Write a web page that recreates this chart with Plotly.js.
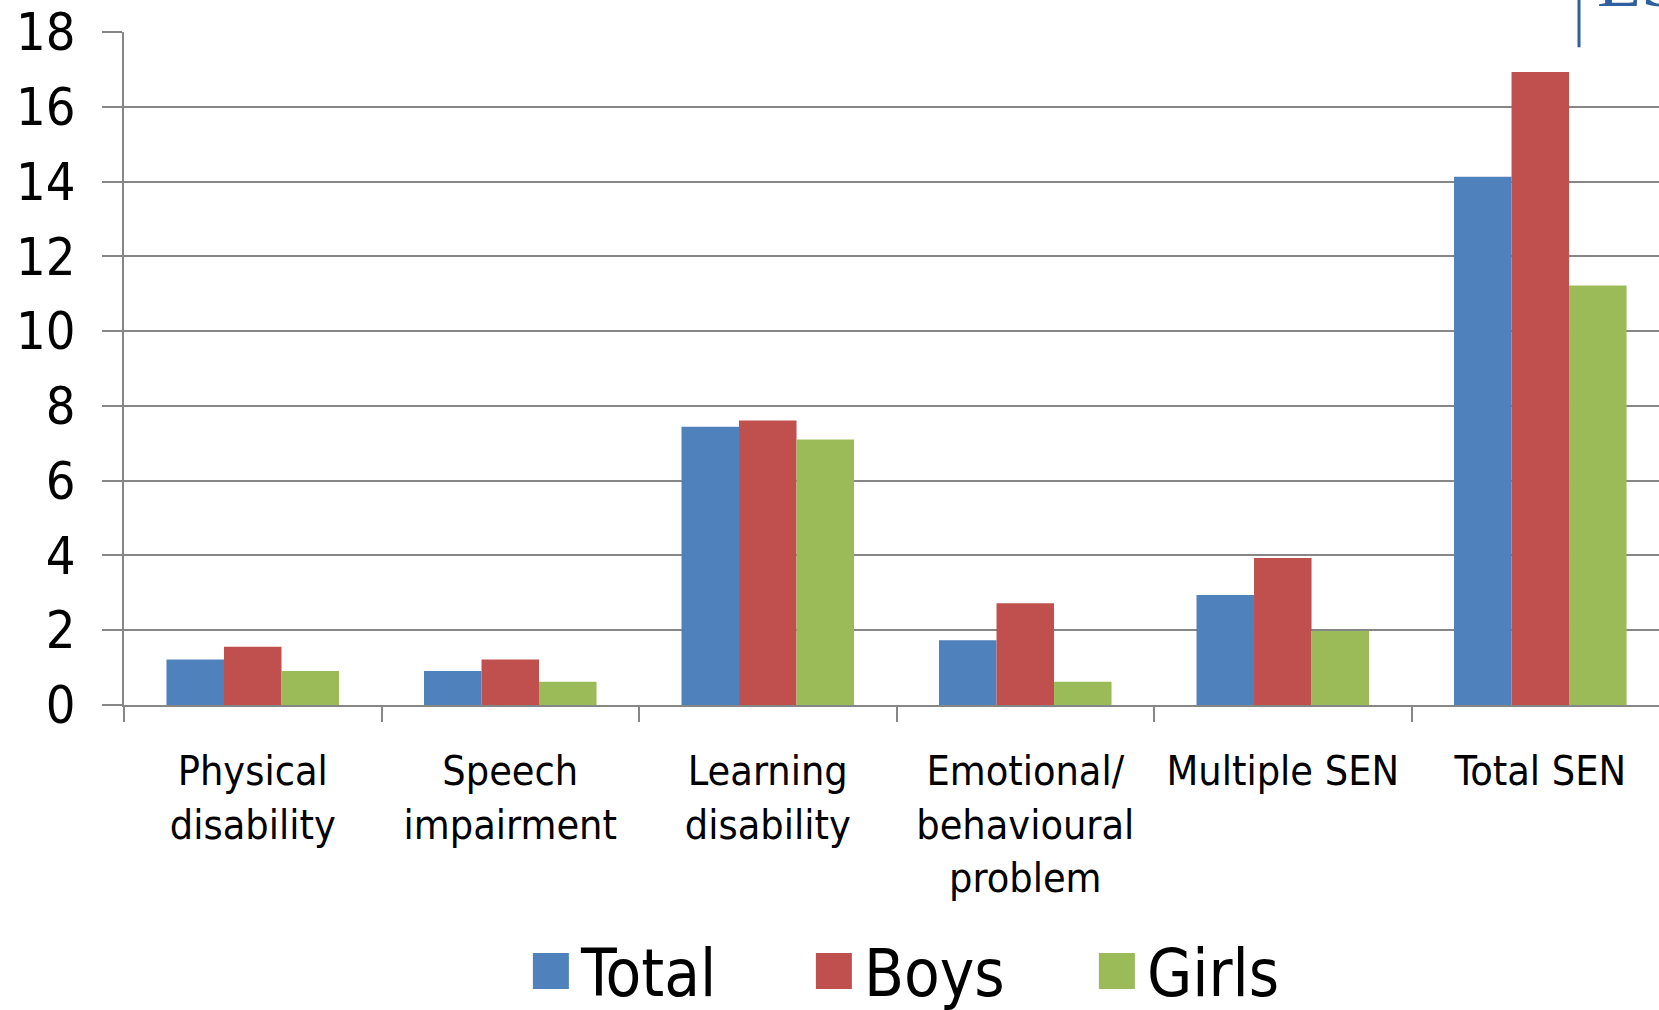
<!DOCTYPE html>
<html>
<head>
<meta charset="utf-8">
<script src="https://cdn.plot.ly/plotly-3.0.1.min.js"></script>
<style>html,body{margin:0;padding:0;background:#fff;}#chart{width:1659px;height:1010px;}</style>
</head>
<body>
<div id="chart"></div>
<script>
const categories = ["Physical<br>disability", "Speech<br>impairment", "Learning<br>disability", "Emotional/<br>behavioural<br>problem", "Multiple SEN", "Total SEN"];
const seriesNames = ["Total", "Boys", "Girls"];
const totalValues = [1.22, 0.91, 7.44, 1.73, 2.94, 14.13];
const boysValues = [1.56, 1.22, 7.61, 2.72, 3.93, 16.93];
const girlsValues = [0.91, 0.62, 7.10, 0.62, 1.98, 11.22];
const yTickVals = [0, 2, 4, 6, 8, 10, 12, 14, 16, 18];

const colors = ["#4F81BD", "#C0504D", "#9BBB59"];
const seriesValues = [totalValues, boysValues, girlsValues];
const FONT = "'DejaVu Sans Condensed', 'DejaVu Sans', sans-serif";
const GRAY = "#868686";

const data = seriesNames.map((name, i) => ({
  type: "bar",
  name: name,
  x: categories,
  y: seriesValues[i],
  marker: {color: colors[i], line: {width: 0}},
  hoverinfo: "x+y+name"
}));

const layout = {
  width: 1659,
  height: 1010,
  margin: {l: 124, r: 0, t: 32, b: 305, pad: 0},
  paper_bgcolor: "#ffffff",
  plot_bgcolor: "#ffffff",
  barmode: "group",
  bargap: 0.33,
  bargroupgap: 0,
  font: {family: FONT, color: "#000000"},
  xaxis: {
    type: "category",
    range: [-0.5, 5.461],
    tickson: "boundaries",
    ticks: "outside",
    ticklen: 15,
    tickwidth: 2,
    tickcolor: GRAY,
    showline: true,
    linecolor: GRAY,
    linewidth: 2,
    showgrid: false,
    tickfont: {family: FONT, size: 41, color: "#000000"},
    ticklabelstandoff: 29,
    fixedrange: true
  },
  yaxis: {
    range: [0, 18],
    tickvals: yTickVals,
    ticktext: yTickVals.map(String),
    ticks: "outside",
    ticklen: 20,
    tickwidth: 2,
    tickcolor: GRAY,
    showline: true,
    linecolor: GRAY,
    linewidth: 2,
    showgrid: true,
    gridcolor: GRAY,
    gridwidth: 2,
    zeroline: false,
    tickfont: {family: FONT, size: 52, color: "#000000"},
    ticklabelstandoff: 16,
    fixedrange: true
  },
  showlegend: true,
  legend: {
    orientation: "h",
    xref: "container",
    yref: "container",
    x: 0.320,
    xanchor: "left",
    y: 0.087,
    yanchor: "top",
    font: {family: FONT, size: 65, color: "#000000"},
    entrywidth: 228,
    entrywidthmode: "pixels",
    itemwidth: 40,
    bgcolor: "rgba(0,0,0,0)",
    traceorder: "normal"
  },
  shapes: [{
    type: "line",
    xref: "paper", yref: "paper",
    x0: (1579 - 124) / 1535, x1: (1579 - 124) / 1535,
    y0: 1 + (31.7 - 47) / 673, y1: 1.06,
    line: {color: "#2F5F9E", width: 3}
  }],
  annotations: [{
    text: "ES",
    xref: "paper", yref: "paper",
    x: (1595 - 124) / 1535, xanchor: "left",
    y: 1 + (31.7 - 24) / 673, yanchor: "bottom",
    showarrow: false,
    font: {family: "'Liberation Serif', serif", size: 72, color: "#2F5F9E"}
  }]
};

Plotly.newPlot("chart", data, layout, {displayModeBar: false, staticPlot: true}).then(gd => {
  gd.querySelectorAll(".legend .legendpoints path").forEach(p => {
    p.setAttribute("transform", "translate(20,0) scale(3)");
  });
});
</script>
</body>
</html>
